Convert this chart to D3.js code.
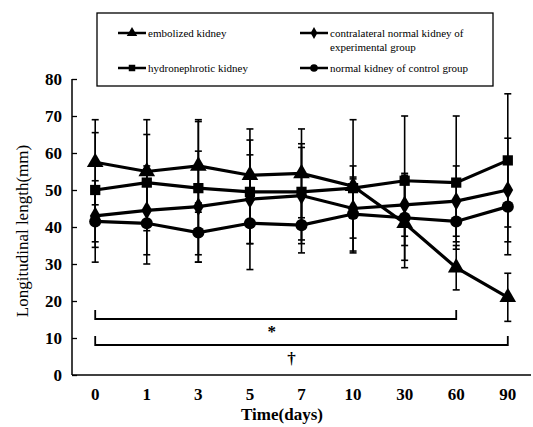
<!DOCTYPE html>
<html>
<head>
<meta charset="utf-8">
<script src="https://cdn.jsdelivr.net/npm/d3@7"></script>
<style>
  body { margin: 0; background: #fff; }
  svg { display: block; }
  text { font-family: "Liberation Serif", "DejaVu Serif", serif; fill: #000; }
</style>
</head>
<body>
<svg id="chart" width="533" height="427"></svg>
<script>
// time points (categorical, evenly spaced)
const days = ["0", "1", "3", "5", "7", "10", "30", "60", "90"];

// means (mm)
const embolized     = [57.5, 55, 56.5, 54, 54.5, 51, 41, 29, 21];
const hydronephrotic = [50, 52, 50.5, 49.5, 49.5, 50.5, 52.5, 52, 58];
const contralateral = [43, 44.5, 45.5, 47.5, 48.5, 45, 46, 47, 50];
const normalControl = [41.5, 41, 38.5, 41, 40.5, 43.5, 42.5, 41.5, 45.5];

// standard deviations
const embolizedSd      = [11.5, 14, 12.5, 12.5, 12, 18, 12, 6, 6.5];
const hydronephroticSd = [15.5, 13, 18, 14, 13, 6, 17.5, 18, 18];
const contralateralSd  = [7, 12, 15, 12, 13, 8, 8.5, 9.5, 14];
const normalControlSd  = [11, 11, 8, 12.5, 7.5, 10, 11.5, 5.5, 13];

const yTicks = [0, 10, 20, 30, 40, 50, 60, 70, 80];

const series = [
  {name: "embolized kidney", values: embolized, sd: embolizedSd, shape: d3.symbolTriangle, size: 120},
  {name: "hydronephrotic kidney", values: hydronephrotic, sd: hydronephroticSd, shape: d3.symbolSquare, size: 105},
  {name: "contralateral normal kidney of", name2: "experimental group", values: contralateral, sd: contralateralSd, shape: d3.symbolDiamond, size: 100},
  {name: "normal kidney of control group", values: normalControl, sd: normalControlSd, shape: d3.symbolCircle, size: 115}
];

const svg = d3.select("#chart");

const x = d3.scalePoint().domain(days).range([72, 531]).padding(0.45);
const y = d3.scaleLinear().domain([0, 80]).range([375, 79]);

// axes
const yAxis = svg.append("g").attr("transform", "translate(72,0)")
  .call(d3.axisLeft(y).tickValues(yTicks).tickSize(-5).tickPadding(10));
yAxis.select(".domain").attr("d", "M0," + y(80) + "V" + y(0)).attr("stroke-width", 1.5);
yAxis.selectAll(".tick line").attr("stroke-width", 1.3);
yAxis.selectAll("text").style("font-size", "17px").style("font-weight", "bold");

svg.append("line").attr("x1", 72).attr("x2", 531).attr("y1", y(0)).attr("y2", y(0))
  .attr("stroke", "#000").attr("stroke-width", 1.5);

svg.append("g").selectAll("text").data(days).enter().append("text")
  .attr("x", d => x(d)).attr("y", 400)
  .attr("text-anchor", "middle")
  .style("font-size", "17px").style("font-weight", "bold")
  .text(d => d);

svg.append("text").attr("x", 282).attr("y", 420).attr("text-anchor", "middle")
  .style("font-size", "17px").style("font-weight", "bold").text("Time(days)");

svg.append("text").attr("transform", "translate(28,231) rotate(-90)")
  .attr("text-anchor", "middle").style("font-size", "17px")
  .text("Longitudinal length(mm)");

// error bars
const eg = svg.append("g");
series.forEach(s => {
  s.values.forEach((v, i) => {
    const cx = x(days[i]);
    eg.append("line").attr("x1", cx).attr("x2", cx)
      .attr("y1", y(v + s.sd[i])).attr("y2", y(v - s.sd[i]))
      .attr("stroke", "#000").attr("stroke-width", 1.6);
    [v + s.sd[i], v - s.sd[i]].forEach(e => {
      eg.append("line").attr("x1", cx - 3.5).attr("x2", cx + 3.5)
        .attr("y1", y(e)).attr("y2", y(e))
        .attr("stroke", "#000").attr("stroke-width", 1.6);
    });
  });
});

// lines and markers
const line = d3.line().x((d, i) => x(days[i])).y(d => y(d));
series.forEach(s => {
  svg.append("path").datum(s.values).attr("d", line)
    .attr("fill", "none").attr("stroke", "#000").attr("stroke-width", 3.2);
  svg.append("g").selectAll("path").data(s.values).enter().append("path")
    .attr("d", d3.symbol().type(s.shape).size(s.size))
    .attr("transform", (d, i) => "translate(" + x(days[i]) + "," + y(d) + ")")
    .attr("fill", "#000");
});

// significance brackets
function bracket(from, to, yy, label, ly) {
  const g = svg.append("g");
  g.append("path")
    .attr("d", "M" + x(from) + "," + (yy - 9) + "V" + yy + "H" + x(to) + "V" + (yy - 9))
    .attr("fill", "none").attr("stroke", "#000").attr("stroke-width", 1.8);
  g.append("text").attr("x", (x(from) + x(to)) / 2 - (to === "60" ? 4 : 10)).attr("y", ly)
    .attr("text-anchor", "middle").style("font-size", "17px").style("font-weight", "bold")
    .text(label);
}
bracket("0", "60", 319, "*", 337);
bracket("0", "90", 345, "\u2020", 364);

// legend
const lg = svg.append("g");
lg.append("rect").attr("x", 97).attr("y", 13).attr("width", 396).attr("height", 73)
  .attr("fill", "#fff").attr("stroke", "#000").attr("stroke-width", 1.3);
const legendPos = [[118, 33], [118, 68], [300, 33], [300, 68]];
series.forEach((s, i) => {
  const [lx, ly] = legendPos[i];
  lg.append("line").attr("x1", lx).attr("x2", lx + 28).attr("y1", ly).attr("y2", ly)
    .attr("stroke", "#000").attr("stroke-width", 2.5);
  lg.append("path").attr("d", d3.symbol().type(s.shape).size(s.size * 0.4))
    .attr("transform", "translate(" + (lx + 14) + "," + ly + ")");
  lg.append("text").attr("x", lx + 30).attr("y", ly + 4)
    .style("font-size", "11px").text(s.name);
  if (s.name2) {
    lg.append("text").attr("x", lx + 30).attr("y", ly + 18)
      .style("font-size", "11px").text(s.name2);
  }
});
</script>
</body>
</html>
